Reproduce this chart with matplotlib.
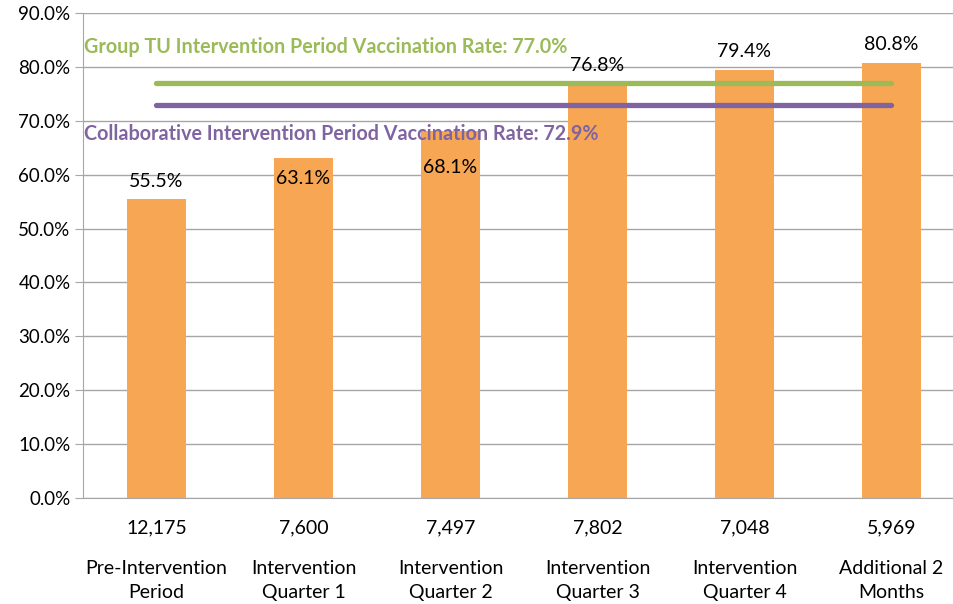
import matplotlib
matplotlib.use("Agg")
import matplotlib.pyplot as plt

# data
categories = ["Pre-Intervention\nPeriod", "Intervention\nQuarter 1", "Intervention\nQuarter 2",
              "Intervention\nQuarter 3", "Intervention\nQuarter 4", "Additional 2\nMonths"]
counts = ["12,175", "7,600", "7,497", "7,802", "7,048", "5,969"]
rates = [55.5, 63.1, 68.1, 76.8, 79.4, 80.8]
# where each value label sits (in % units), as in the original
label_y = [58.8, 59.2, 61.4, 80.3, 82.9, 84.2]

group_tu_rate = 77.0
collab_rate = 72.9

BAR = "#F7A653"
GREEN = "#9BBB59"
PURPLE = "#8064A2"
GRID = "#A6A6A6"

plt.rcParams['font.family'] = ['Lato', 'DejaVu Sans']

fig = plt.figure(figsize=(9.54, 6.04), dpi=100)
ax = fig.add_axes([0.087, 0.1755, 0.9245, 0.803])

x = list(range(len(categories)))
ax.bar(x, rates, width=0.4, color=BAR, zorder=2)

for xi, r, ly in zip(x, rates, label_y):
    ax.text(xi, ly, "%.1f%%" % r, ha="center", va="center", fontsize=14, color="black", zorder=5)

ax.plot([x[0], x[-1]], [group_tu_rate, group_tu_rate], color=GREEN, lw=3.8,
        solid_capstyle="round", zorder=3)
ax.plot([x[0], x[-1]], [collab_rate, collab_rate], color=PURPLE, lw=3.8,
        solid_capstyle="round", zorder=3)

ax.text(-0.49, 83.7, "Group TU Intervention Period Vaccination Rate: %.1f%%" % group_tu_rate,
        color=GREEN, fontsize=14.2, fontweight="bold", ha="left", va="center", zorder=6)
ax.text(-0.49, 67.5, "Collaborative Intervention Period Vaccination Rate: %.1f%%" % collab_rate,
        color=PURPLE, fontsize=14.2, fontweight="bold", ha="left", va="center", zorder=6)

ax.set_xlim(-0.5, len(categories) - 0.5)
ax.set_ylim(0, 90)
ax.set_yticks(range(0, 91, 10))
ax.set_yticklabels(["%.1f%%" % v for v in range(0, 91, 10)], fontsize=13.5)
ax.yaxis.grid(True, color=GRID, lw=1)
ax.set_axisbelow(True)

ax.set_xticks(x)
ax.set_xticklabels(categories, fontsize=14, linespacing=1.5)
ax.tick_params(axis="x", length=0, pad=44.5)
ax.tick_params(axis="y", length=6, color=GRID, pad=3)

for xi, c in zip(x, counts):
    ax.annotate(c, xy=(xi, 0), xycoords=("data", "axes fraction"), xytext=(0, -21.5),
                textcoords="offset points", ha="center", va="center", fontsize=14)

for s in ["top", "right"]:
    ax.spines[s].set_visible(False)
ax.spines["left"].set_color(GRID)
ax.spines["bottom"].set_color(GRID)

fig.savefig("out.png", dpi=100)
